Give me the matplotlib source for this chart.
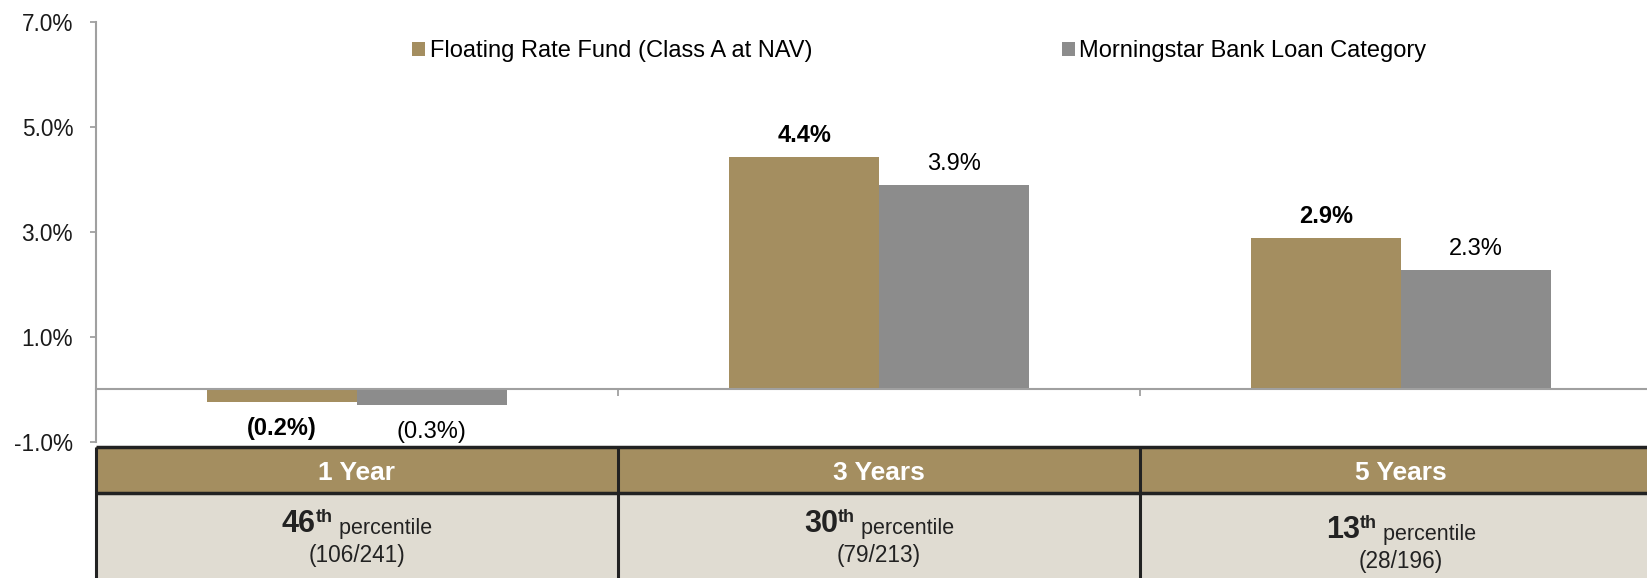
import numpy as np
import matplotlib
matplotlib.use('Agg')
import matplotlib.pyplot as plt
from matplotlib.patches import Rectangle

plt.rcParams['font.family'] = ['Liberation Sans', 'DejaVu Sans']

# data (annualized returns, %)
periods = ['1 Year', '3 Years', '5 Years']
fund = [-0.23, 4.43, 2.88]
category = [-0.29, 3.89, 2.27]
series_names = ['Floating Rate Fund (Class A at NAV)', 'Morningstar Bank Loan Category']
ranks = ['46', '30', '13']
rank_counts = ['(106/241)', '(79/213)', '(28/196)']
yticks = [-1, 1, 3, 5, 7]

tan = '#A48E60'
grey = '#8C8C8C'
body_bg = '#E0DCD2'
line_grey = '#A0A0A0'
dark = '#222222'

fig = plt.figure(figsize=(16.47, 5.78), dpi=100)
ax = fig.add_axes([96 / 1647, 136 / 578, 1566 / 1647, 420.3 / 578])

x = np.arange(len(periods))
w = 0.287
b1 = ax.bar(x - w / 2, fund, w, color=tan, label=series_names[0], zorder=2)
b2 = ax.bar(x + w / 2, category, w, color=grey, label=series_names[1], zorder=2)

ax.set_xlim(-0.5, 2.5)
ax.set_ylim(-1, 7)
ax.set_yticks(yticks)
ax.set_yticklabels([f'{v:.1f}%' for v in yticks])
ax.set_xticks([0.5, 1.5])
ax.set_xticklabels(['', ''])

for s in ['top', 'right']:
    ax.spines[s].set_visible(False)
ax.spines['left'].set_color(line_grey)
ax.spines['left'].set_linewidth(1.5)
ax.spines['bottom'].set_position(('data', 0))
ax.spines['bottom'].set_color(line_grey)
ax.spines['bottom'].set_linewidth(1.5)
ax.tick_params(axis='y', length=4, width=1.3, color=line_grey, labelsize=16.3,
               pad=12.5, labelcolor='#1a1a1a')
ax.tick_params(axis='x', length=5, width=1.3, color=line_grey, direction='out')

# value labels
def lbl(v):
    return f'{v:.1f}%' if v >= 0 else f'({abs(v):.1f}%)'

for bars, vals, wt in [(b1, fund, 'bold'), (b2, category, 'normal')]:
    for rect, v in zip(bars, vals):
        cx = rect.get_x() + rect.get_width() / 2
        ax.annotate(lbl(v), xy=(cx, v), xytext=(0, 21.5 if v >= 0 else -27),
                    textcoords='offset pixels', ha='center', va='center',
                    fontsize=17, fontweight=wt, color='black')

ax.legend(handles=[b1, b2], ncol=2, loc='center left',
          bbox_to_anchor=(412 / 1647, 1 - 51 / 578), bbox_transform=fig.transFigure,
          frameon=False, fontsize=17, handlelength=0.55, handleheight=0.55,
          handletextpad=0.21, columnspacing=10.55, borderpad=0, borderaxespad=0)

# table under the chart
trans = ax.get_xaxis_transform()
top, hdr_bot, bot = -0.0119, -0.1213, -0.40
for i in range(len(periods)):
    ax.add_patch(Rectangle((i - 0.5, hdr_bot), 1, top - hdr_bot, facecolor=tan,
                           edgecolor='none', transform=trans, clip_on=False))
    ax.add_patch(Rectangle((i - 0.5, bot), 1, hdr_bot - bot, facecolor=body_bg,
                           edgecolor='none', transform=trans, clip_on=False))
    ax.text(i, -0.0738, periods[i], transform=trans, ha='center', va='center',
            color='white', fontweight='bold', fontsize=19)

for yy in [top, hdr_bot]:
    ax.plot([-0.5, 2.5], [yy, yy], transform=trans, color=dark, lw=2.5,
            clip_on=False, solid_capstyle='butt')
for xx in [-0.5, 0.5, 1.5, 2.5]:
    ax.plot([xx, xx], [bot, top], transform=trans, color=dark, lw=2.2,
            clip_on=False, solid_capstyle='butt')

row_shift = [0, 0, -0.015]
firsts = []
for i in range(len(periods)):
    t1 = ax.annotate(ranks[i], xy=(i, -0.214 + row_shift[i]), xycoords=trans,
                     xytext=(0, 0), textcoords='offset pixels', ha='left',
                     va='baseline', fontsize=22, fontweight='bold', color='#222222',
                     annotation_clip=False)
    t2 = ax.annotate('th', xy=(1, 1), xycoords=t1, xytext=(0, 0),
                     textcoords='offset pixels', ha='left', va='top',
                     fontsize=13, fontweight='bold', color='#222222',
                     annotation_clip=False)
    t3 = ax.annotate(' percentile', xy=(1, 0), xycoords=(t2, t1), ha='left',
                     va='bottom', fontsize=15.5, color='#222222', annotation_clip=False)
    ax.text(i, -0.269 + row_shift[i], rank_counts[i], transform=trans,
            ha='center', va='center', fontsize=16.3, color='#222222')
    firsts.append((t1, t3))

fig.canvas.draw()
r = fig.canvas.get_renderer()
for t1, t3 in firsts:
    w_tot = t3.get_window_extent(r).x1 - t1.get_window_extent(r).x0
    t1.xyann = (-w_tot / 2, 0)

fig.savefig('out.png', dpi=100)
